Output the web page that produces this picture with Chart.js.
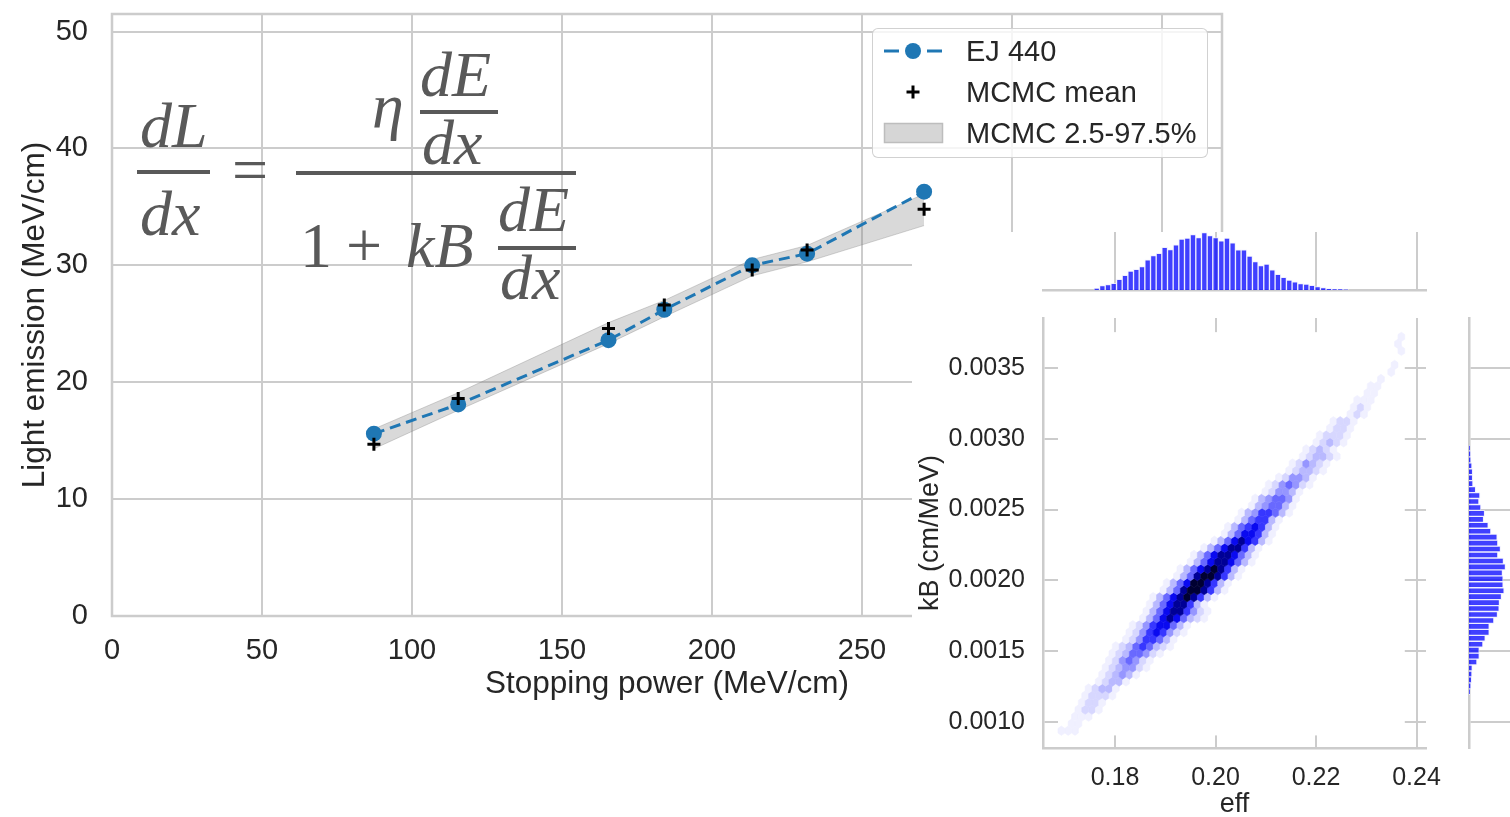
<!DOCTYPE html>
<html>
<head>
<meta charset="utf-8">
<title>EJ 440 light emission</title>
<script src="https://cdn.jsdelivr.net/npm/chart.js@4.4.1/dist/chart.umd.min.js"></script>
<style>
    body { margin: 0; width: 1510px; height: 817px; overflow: hidden; background: #fff; position: relative;
           font-family: 'Liberation Sans', Arial, sans-serif; color: #262626; }
    canvas { position: absolute; }
    .eq { position: absolute; font-family: 'Liberation Serif', 'Times New Roman', serif; font-style: italic;
          font-size: 64px; line-height: 1; color: #595959; white-space: nowrap; }
    .eq.up { font-style: normal; }
    .bar { position: absolute; background: #595959; height: 4px; }
    #legend { position: absolute; left: 872px; top: 28px; width: 336px; height: 130px; box-sizing: border-box;
              border: 1.5px solid rgba(204,204,204,0.9); border-radius: 6px; background: rgba(255,255,255,0.8); }
    .lg-row { position: absolute; left: 0; width: 100%; height: 40px; line-height: 40px; font-size: 29px; }
    .lg-row span { position: absolute; left: 93px; }
    .lg-row svg { position: absolute; left: 9px; top: 8px; }
    #inset { position: absolute; left: 912px; top: 232px; width: 598px; height: 585px; background: #fff; }
</style>
</head>
<body>

<canvas id="mainChart" width="1510" height="817" style="left:0;top:0"></canvas>

<!-- light emission formula -->
<div class="eq" style="left:140px;top:94px">dL</div>
<div class="bar" style="left:137px;top:170px;width:73px"></div>
<div class="eq" style="left:140px;top:182px">dx</div>
<div class="eq up" style="left:232px;top:138px">=</div>
<div class="eq" style="left:372px;top:74px">η</div>
<div class="eq" style="left:420px;top:43px">dE</div>
<div class="bar" style="left:420px;top:110px;width:78px"></div>
<div class="eq" style="left:422px;top:111px">dx</div>
<div class="bar" style="left:296px;top:171px;width:280px"></div>
<div class="eq up" style="left:300px;top:214px">1</div>
<div class="eq up" style="left:346px;top:214px">+</div>
<div class="eq" style="left:406px;top:214px">kB</div>
<div class="eq" style="left:498px;top:178px">dE</div>
<div class="bar" style="left:498px;top:246px;width:78px"></div>
<div class="eq" style="left:500px;top:246px">dx</div>

<div id="legend">
    <div class="lg-row" style="top:2px">
        <svg width="62" height="24">
            <line x1="2" y1="12" x2="17" y2="12" stroke="#1f77b4" stroke-width="3"/>
            <line x1="45" y1="12" x2="60" y2="12" stroke="#1f77b4" stroke-width="3"/>
            <circle cx="31" cy="12" r="8" fill="#1f77b4"/>
        </svg>
        <span>EJ 440</span>
    </div>
    <div class="lg-row" style="top:43px">
        <svg width="62" height="24">
            <line x1="24.5" y1="12" x2="37.5" y2="12" stroke="#000" stroke-width="3"/>
            <line x1="31" y1="5.5" x2="31" y2="18.5" stroke="#000" stroke-width="3"/>
        </svg>
        <span>MCMC mean</span>
    </div>
    <div class="lg-row" style="top:84px">
        <svg width="62" height="24">
            <rect x="2.5" y="2.5" width="58" height="19" fill="#d6d6d6" stroke="#bdbdbd" stroke-width="1.5"/>
        </svg>
        <span>MCMC 2.5-97.5%</span>
    </div>
</div>

<div id="inset">
    <canvas id="hexChart" width="598" height="585" style="left:0;top:0"></canvas>
</div>
<canvas id="topHist" width="387" height="62" style="left:1041px;top:230px"></canvas>
<canvas id="rightHist" width="62" height="434" style="left:1467px;top:316px"></canvas>

<script>
// =======================================================
// DATA
// =======================================================
const stopPower     = [87.3, 115.4, 165.5, 184.1, 213.4, 231.7, 270.7];
const lightEJ440    = [15.6, 18.1, 23.6, 26.2, 30.0, 31.0, 36.3];
const lightMcmcMean = [14.7, 18.6, 24.6, 26.6, 29.6, 31.3, 34.8];
const lightMcmcLow  = [14.3, 17.6, 23.3, 25.6, 29.1, 30.3, 33.4];
const lightMcmcHigh = [16.0, 19.1, 25.1, 27.0, 30.5, 31.7, 36.1];

const mainXTicks = [0, 50, 100, 150, 200, 250, 300, 350];
const mainYTicks = [0, 10, 20, 30, 40, 50];
const effTicks   = [0.18, 0.20, 0.22, 0.24];
const kbTicks    = [0.0010, 0.0015, 0.0020, 0.0025, 0.0030, 0.0035];

// marginal histogram of eff (first bin centre, bin width, counts)
const effHistFirst = 0.17636;
const effHistWidth = 0.001127;
const effHistCounts = [5, 13, 16, 20, 32, 44, 57, 62, 71, 91, 104, 111, 129, 122, 136, 154, 157, 167, 158, 173,
                       164, 158, 148, 157, 142, 121, 121, 102, 86, 74, 78, 61, 47, 38, 30, 25, 19, 18, 14, 10,
                       7, 4, 3, 2, 1];

// marginal histogram of kB, lowest bin first
const kbHistFirst = 0.001213;
const kbHistWidth = 0.000042;
const kbHistCounts = [3, 6, 8, 9, 10, 24, 31, 31, 42, 49, 61, 61, 75, 86, 91, 92, 98, 106, 103, 103,
                      101, 110, 104, 87, 95, 87, 85, 66, 58, 44, 47, 36, 30, 33, 20, 12, 11, 11, 9, 6, 5, 3];

// hexbin: sample extent, grid size, and per half-row [first column, density levels 0-9]
const hexEffRange = [0.16933, 0.23699];
const hexKbRange  = [0.000938, 0.00372];
const hexGrid     = [50, 28];
const hexRows = [
    [0, "111"], [1, "11"], [2, "111"], [2, "1221"], [3, "1221"],
    [3, "12221"], [4, "12331"], [5, "12331"], [6, "123431"], [6, "1234421"],
    [7, "1245421"], [7, "12355421"], [8, "123565321"], [9, "12466531"], [10, "124676421"],
    [10, "124677531"], [12, "1357875321"], [12, "1357886421"], [13, "135788631"], [13, "1357898631"],
    [15, "1358998631"], [15, "1357998631"], [17, "1358998631"], [17, "1357898631"], [19, "1357887531"],
    [19, "1357887531"], [21, "135788631"], [22, "135787631"], [24, "13577631"], [24, "13567631"],
    [26, "1356631"], [26, "13466531"], [28, "1345531"], [28, "1345541"], [30, "124431"],
    [30, "1245421"], [32, "124431"], [33, "123321"], [34, "124321"], [35, "123321"],
    [36, "12321"], [37, "12321"], [38, "12221"], [39, "1221"], [40, "1221"],
    [42, "121"], [43, "121"], [43, "111"], [45, "11"], [45, "11"],
    [47, "1"], [48, "1"], [49, "1"], [0, ""], [50, "1"],
    [49, "1"], [50, "1"]
];


// =======================================================
// STYLE
// =======================================================
const GRID = "#cccccc";
const TEXT = "#262626";
const hexPalette = [null, "rgb(240,240,255)", "rgb(215,215,255)", "rgb(185,185,255)", "rgb(150,150,255)",
                    "rgb(105,105,255)", "rgb(55,55,255)", "rgb(10,10,240)", "rgb(0,0,150)", "rgb(0,0,50)"];

Chart.defaults.font.family = "'Liberation Sans', Arial, sans-serif";
Chart.defaults.color = TEXT;

const pts = (xs, ys) => xs.map((x, i) => ({ x: x, y: ys[i] }));
const fixedTicks = arr => scale => { scale.ticks = arr.map(v => ({ value: v })); };
// keep the plot area where the layout padding puts it
const noMargins = size => scale => {
    if (scale.isHorizontal()) scale.height = size; else scale.width = size;
    scale.paddingTop = scale.paddingBottom = scale.paddingLeft = scale.paddingRight = 0;
};


// =======================================================
// MAIN CHART
// =======================================================
const framePlugin = {
    id: "frame",
    beforeDatasetsDraw(chart) {
        const a = chart.chartArea, ctx = chart.ctx;
        ctx.save();
        ctx.strokeStyle = GRID;
        ctx.lineWidth = 2.5;
        ctx.strokeRect(a.left, a.top, a.right - a.left, a.bottom - a.top);
        ctx.restore();
    }
};

new Chart(document.getElementById("mainChart"), {
    type: "scatter",
    data: {
        datasets: [
            {
                label: "MCMC mean",
                data: pts(stopPower, lightMcmcMean),
                pointStyle: "cross", pointRadius: 6.5, pointBorderWidth: 3,
                borderColor: "#000", backgroundColor: "#000", showLine: false
            },
            {
                label: "EJ 440",
                data: pts(stopPower, lightEJ440),
                showLine: true, borderColor: "#1f77b4", borderWidth: 3, borderDash: [11, 6],
                pointRadius: 8, pointBackgroundColor: "#1f77b4", pointBorderWidth: 0
            },
            {
                label: "MCMC 2.5%",
                data: pts(stopPower, lightMcmcLow),
                showLine: true, borderColor: "rgba(128,128,128,0.35)", borderWidth: 1,
                pointRadius: 0, fill: false
            },
            {
                label: "MCMC 97.5%",
                data: pts(stopPower, lightMcmcHigh),
                showLine: true, borderColor: "rgba(128,128,128,0.35)", borderWidth: 1,
                pointRadius: 0, fill: 2, backgroundColor: "rgba(128,128,128,0.3)"
            }
        ]
    },
    options: {
        responsive: false,
        animation: false,
        layout: { padding: { left: 0, top: 14, right: 288, bottom: 0 } },
        plugins: {
            legend: { display: false },
            tooltip: { enabled: false },
            filler: { drawTime: "beforeDatasetsDraw" }
        },
        scales: {
            x: {
                type: "linear", min: 0, max: 370,
                afterBuildTicks: fixedTicks(mainXTicks),
                afterFit: noMargins(201),
                grid: { color: GRID, lineWidth: 2, drawTicks: false },
                border: { display: false },
                ticks: { font: { size: 29 }, padding: 17.5, color: TEXT },
                title: { display: true, text: "Stopping power (MeV/cm)", color: TEXT,
                         font: { size: 31.5 }, padding: { top: 0, bottom: 114 } }
            },
            y: {
                type: "linear", min: 0, max: 51.5,
                afterBuildTicks: fixedTicks(mainYTicks),
                afterFit: noMargins(112),
                grid: { color: GRID, lineWidth: 2, drawTicks: false },
                border: { display: false },
                ticks: { font: { size: 29 }, padding: 24, color: TEXT },
                title: { display: true, text: "Light emission (MeV/cm)", color: TEXT,
                         font: { size: 31.5 }, padding: { top: 16, bottom: 0 } }
            }
        }
    },
    plugins: [framePlugin]
});


// =======================================================
// HEXBIN (eff vs kB)
// =======================================================
const hexDx = (hexEffRange[1] - hexEffRange[0]) / hexGrid[0];
const hexDy = (hexKbRange[1] - hexKbRange[0]) / hexGrid[1];

const hexCells = [];
hexRows.forEach(([start, cells], r) => {
    for (let k = 0; k < cells.length; k++) {
        const level = +cells[k];
        if (!level) continue;
        const col = start + k + (r % 2 ? 0.5 : 0);
        hexCells.push({ x: hexEffRange[0] + col * hexDx, y: hexKbRange[0] + r * hexDy / 2, level: level });
    }
});

const hexbinPlugin = {
    id: "hexbin",
    beforeDatasetsDraw(chart) {
        const xs = chart.scales.x, ys = chart.scales.y, ctx = chart.ctx;
        ctx.save();

        // empty cells are white and cover the grid
        const l = xs.getPixelForValue(hexEffRange[0] - hexDx / 2);
        const r = xs.getPixelForValue(hexEffRange[1] + hexDx / 2);
        const t = ys.getPixelForValue(hexKbRange[1] + hexDy / 3);
        const b = ys.getPixelForValue(hexKbRange[0] - hexDy / 3);
        ctx.fillStyle = "#fff";
        ctx.fillRect(l, t, r - l, b - t);

        const meta = chart.getDatasetMeta(0);
        const cells = chart.data.datasets[0].data;
        meta.data.forEach((pt, i) => {
            const d = cells[i];
            const hw = xs.getPixelForValue(d.x + hexDx / 2) - pt.x;
            const hh = pt.y - ys.getPixelForValue(d.y + hexDy / 3);
            ctx.beginPath();
            ctx.moveTo(pt.x + hw, pt.y - hh / 2);
            ctx.lineTo(pt.x + hw, pt.y + hh / 2);
            ctx.lineTo(pt.x, pt.y + hh);
            ctx.lineTo(pt.x - hw, pt.y + hh / 2);
            ctx.lineTo(pt.x - hw, pt.y - hh / 2);
            ctx.lineTo(pt.x, pt.y - hh);
            ctx.closePath();
            ctx.fillStyle = hexPalette[d.level];
            ctx.strokeStyle = hexPalette[d.level];
            ctx.lineWidth = 0.6;
            ctx.fill();
            ctx.stroke();
        });
        ctx.restore();
    }
};

new Chart(document.getElementById("hexChart"), {
    type: "scatter",
    data: { datasets: [{ label: "samples", data: hexCells, pointRadius: 0 }] },
    options: {
        responsive: false,
        animation: false,
        layout: { padding: { left: 0, top: 86, right: 84, bottom: 0 } },
        plugins: { legend: { display: false }, tooltip: { enabled: false } },
        scales: {
            x: {
                type: "linear", min: 0.16567, max: 0.24189,
                afterBuildTicks: fixedTicks(effTicks),
                afterFit: noMargins(69),
                grid: { color: GRID, lineWidth: 2, drawTicks: false },
                border: { color: GRID, width: 2.5 },
                ticks: { font: { size: 25 }, padding: 15, color: TEXT, callback: v => v.toFixed(2) },
                title: { display: true, text: "eff", color: TEXT, font: { size: 27 }, padding: { top: 0, bottom: -4 } }
            },
            y: {
                type: "linear", min: 0.000816, max: 0.003853,
                afterBuildTicks: fixedTicks(kbTicks),
                afterFit: noMargins(131),
                grid: { color: GRID, lineWidth: 2, drawTicks: false },
                border: { color: GRID, width: 2.5 },
                ticks: { font: { size: 25 }, padding: 18, color: TEXT, callback: v => v.toFixed(4) },
                title: { display: true, text: "kB (cm/MeV)", color: TEXT, font: { size: 27 }, padding: { top: 2, bottom: 0 } }
            }
        }
    },
    plugins: [hexbinPlugin]
});


// =======================================================
// MARGINAL HISTOGRAMS
// =======================================================
const histBar = {
    backgroundColor: "rgba(0,0,255,0.75)",
    borderColor: "rgba(235,235,255,0.8)",
    borderWidth: 1,
    barPercentage: 1,
    categoryPercentage: 1
};

new Chart(document.getElementById("topHist"), {
    type: "bar",
    data: {
        datasets: [Object.assign({
            label: "eff",
            data: effHistCounts.map((c, i) => ({ x: effHistFirst + i * effHistWidth, y: c }))
        }, histBar)]
    },
    options: {
        responsive: false,
        animation: false,
        layout: { padding: 2 },
        plugins: { legend: { display: false }, tooltip: { enabled: false } },
        scales: {
            x: {
                type: "linear", min: 0.16567, max: 0.24189, offset: false,
                afterBuildTicks: fixedTicks(effTicks),
                grid: { color: GRID, lineWidth: 2, drawTicks: false, offset: false },
                border: { color: GRID, width: 2.5 },
                ticks: { display: false }
            },
            y: { display: false, min: 0, max: 175 }
        }
    }
});

new Chart(document.getElementById("rightHist"), {
    type: "bar",
    data: {
        datasets: [Object.assign({
            label: "kB",
            data: kbHistCounts.map((c, i) => ({ x: c, y: kbHistFirst + i * kbHistWidth }))
        }, histBar)]
    },
    options: {
        indexAxis: "y",
        responsive: false,
        animation: false,
        layout: { padding: 2 },
        plugins: { legend: { display: false }, tooltip: { enabled: false } },
        scales: {
            y: {
                type: "linear", min: 0.000816, max: 0.003853, offset: false,
                afterBuildTicks: fixedTicks(kbTicks),
                grid: { color: GRID, lineWidth: 2, drawTicks: false, offset: false },
                border: { color: GRID, width: 2.5 },
                ticks: { display: false }
            },
            x: { display: false, min: 0, max: 175 }
        }
    }
});
</script>
</body>
</html>
